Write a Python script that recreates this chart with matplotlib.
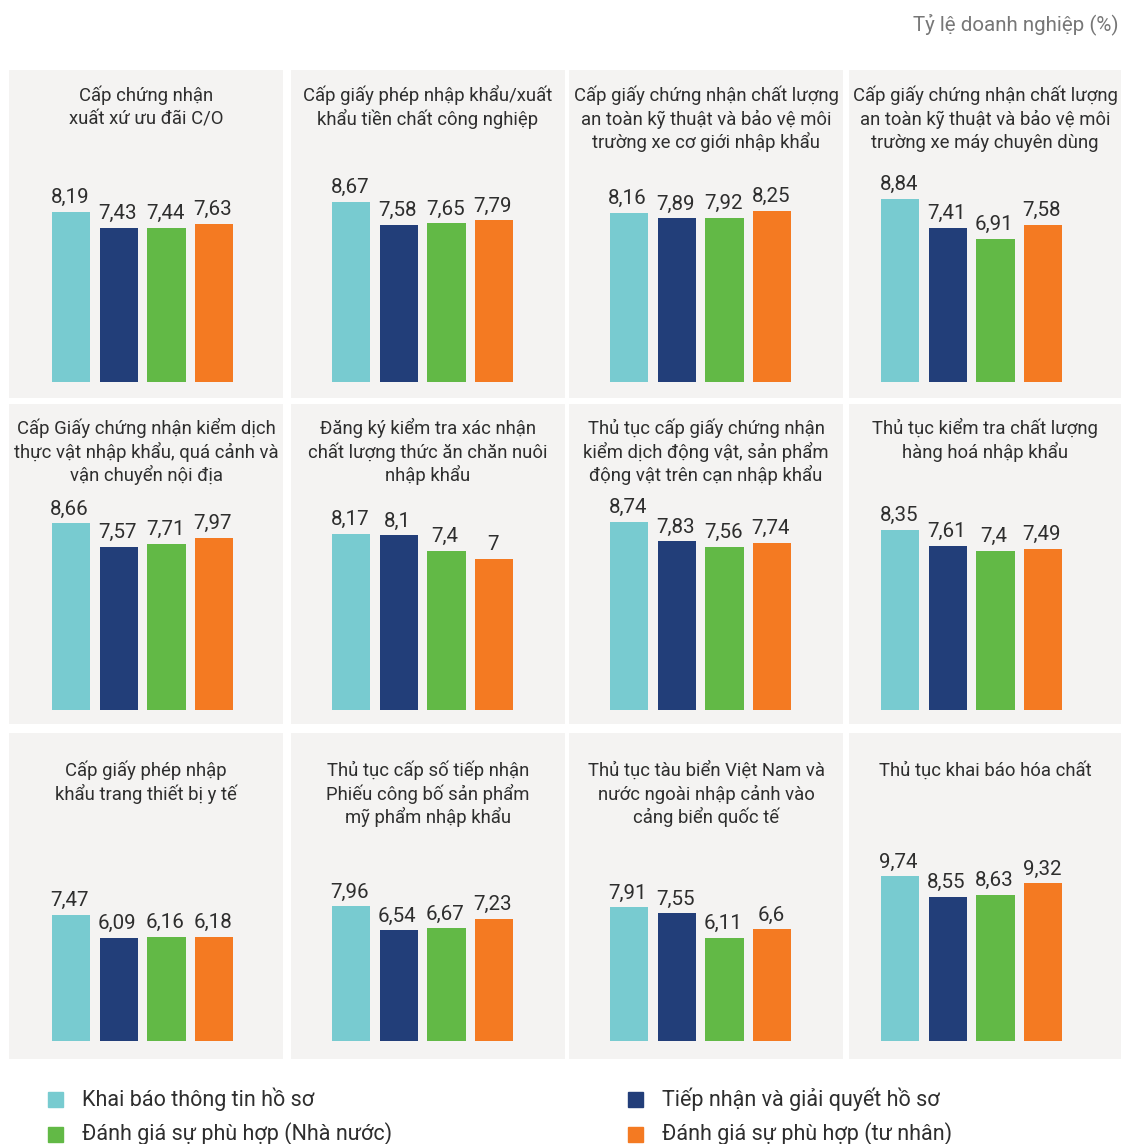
import matplotlib.pyplot as plt
from matplotlib.patches import Rectangle

plt.rcParams['font.family'] = ['Roboto', 'DejaVu Sans']

# Tên các thủ tục
titles = [
    "Cấp chứng nhận\nxuất xứ ưu đãi C/O",
    "Cấp giấy phép nhập khẩu/xuất\nkhẩu tiền chất công nghiệp",
    "Cấp giấy chứng nhận chất lượng\nan toàn kỹ thuật và bảo vệ môi\ntrường xe cơ giới nhập khẩu",
    "Cấp giấy chứng nhận chất lượng\nan toàn kỹ thuật và bảo vệ môi\ntrường xe máy chuyên dùng",
    "Cấp Giấy chứng nhận kiểm dịch\nthực vật nhập khẩu, quá cảnh và\nvận chuyển nội địa",
    "Đăng ký kiểm tra xác nhận\nchất lượng thức ăn chăn nuôi\nnhập khẩu",
    "Thủ tục cấp giấy chứng nhận\nkiểm dịch động vật, sản phẩm\nđộng vật trên cạn nhập khẩu",
    "Thủ tục kiểm tra chất lượng\nhàng hoá nhập khẩu",
    "Cấp giấy phép nhập\nkhẩu trang thiết bị y tế",
    "Thủ tục cấp số tiếp nhận\nPhiếu công bố sản phẩm\nmỹ phẩm nhập khẩu",
    "Thủ tục tàu biển Việt Nam và\nnước ngoài nhập cảnh vào\ncảng biển quốc tế",
    "Thủ tục khai báo hóa chất",
]

# Điểm đánh giá theo từng khâu
khai_bao = [8.19, 8.67, 8.16, 8.84, 8.66, 8.17, 8.74, 8.35, 7.47, 7.96, 7.91, 9.74]
tiep_nhan = [7.43, 7.58, 7.89, 7.41, 7.57, 8.1, 7.83, 7.61, 6.09, 6.54, 7.55, 8.55]
nha_nuoc = [7.44, 7.65, 7.92, 6.91, 7.71, 7.4, 7.56, 7.4, 6.16, 6.67, 6.11, 8.63]
tu_nhan = [7.63, 7.79, 8.25, 7.58, 7.97, 7.0, 7.74, 7.49, 6.18, 7.23, 6.6, 9.32]

series_names = ["Khai báo thông tin hồ sơ", "Tiếp nhận và giải quyết hồ sơ",
                "Đánh giá sự phù hợp (Nhà nước)", "Đánh giá sự phù hợp (tư nhân)"]
colors = ['#78cbd0', '#223e79', '#62b946', '#f47a22']
bg = '#f4f3f2'
txt = '#2e2e2e'

W, H = 1121, 1144
fig = plt.figure(figsize=(W / 100, H / 100), dpi=100)

# khung từng ô (pixel)
col_x = [(9, 283), (291, 565), (569, 843), (849, 1121)]
row_y = [(70, 398), (404, 724), (733, 1059)]
bar_off = [43, 41, 41, 32]     # khoảng cách từ mép trái ô tới cột đầu tiên
row_base = [382, 710, 1041]    # đáy cột
row_scale = [20.75, 21.55, 16.9]  # px cho 1 điểm
title_base = [31, 30, 43]      # baseline dòng tiêu đề đầu tiên, tính từ mép trên ô
line_gap = 23.6
unit = 47.7                    # khoảng cách giữa các cột

def fmt(v):
    return f"{v:g}".replace('.', ',')

for i, title in enumerate(titles):
    r, c = divmod(i, 4)
    x0, x1 = col_x[c]
    y0, y1 = row_y[r]
    ax = fig.add_axes([x0 / W, 1 - y1 / H, (x1 - x0) / W, (y1 - y0) / H])
    ax.set_facecolor(bg)
    for s in ax.spines.values():
        s.set_visible(False)
    ax.set_xticks([])
    ax.set_yticks([])

    left = -0.4 - bar_off[c] / unit
    ax.set_xlim(left, left + (x1 - x0) / unit)
    sc = row_scale[r]
    ax.set_ylim(-(y1 - row_base[r]) / sc, (row_base[r] - y0) / sc)

    vals = [khai_bao[i], tiep_nhan[i], nha_nuoc[i], tu_nhan[i]]
    bars = ax.bar(range(4), vals, width=0.8, color=colors)
    for b, v in zip(bars, vals):
        ax.annotate(fmt(v), (b.get_x() + b.get_width() / 2, v),
                    xytext=(-1, 3.5), textcoords='offset points',
                    ha='center', va='bottom', fontsize=14.8, color=txt)

    # từng dòng tiêu đề đặt theo khoảng cách cố định
    for k, line in enumerate(title.split('\n')):
        yb = title_base[r] + k * line_gap
        ax.text(0.5, 1 - yb / (y1 - y0), line, transform=ax.transAxes,
                ha='center', va='baseline', fontsize=13.3, color=txt)

# tiêu đề đơn vị
fig.text(1119 / W, 1 - 24 / H, "Tỷ lệ doanh nghiệp (%)", ha='right',
         va='center', fontsize=14.8, color='#777777')

# chú giải
leg_pos = [(48, 1099), (628, 1099), (48, 1134), (628, 1134)]
for (lx, ly), name, col in zip(leg_pos, series_names, colors):
    sq = 15
    fig.add_artist(Rectangle((lx / W, 1 - (ly + sq / 2) / H), sq / W, sq / H,
                             transform=fig.transFigure, color=col))
    fig.text((lx + 34) / W, 1 - ly / H, name, ha='left', va='center',
             fontsize=15.5, color=txt)

fig.savefig('out.png', dpi=100, facecolor='white')
